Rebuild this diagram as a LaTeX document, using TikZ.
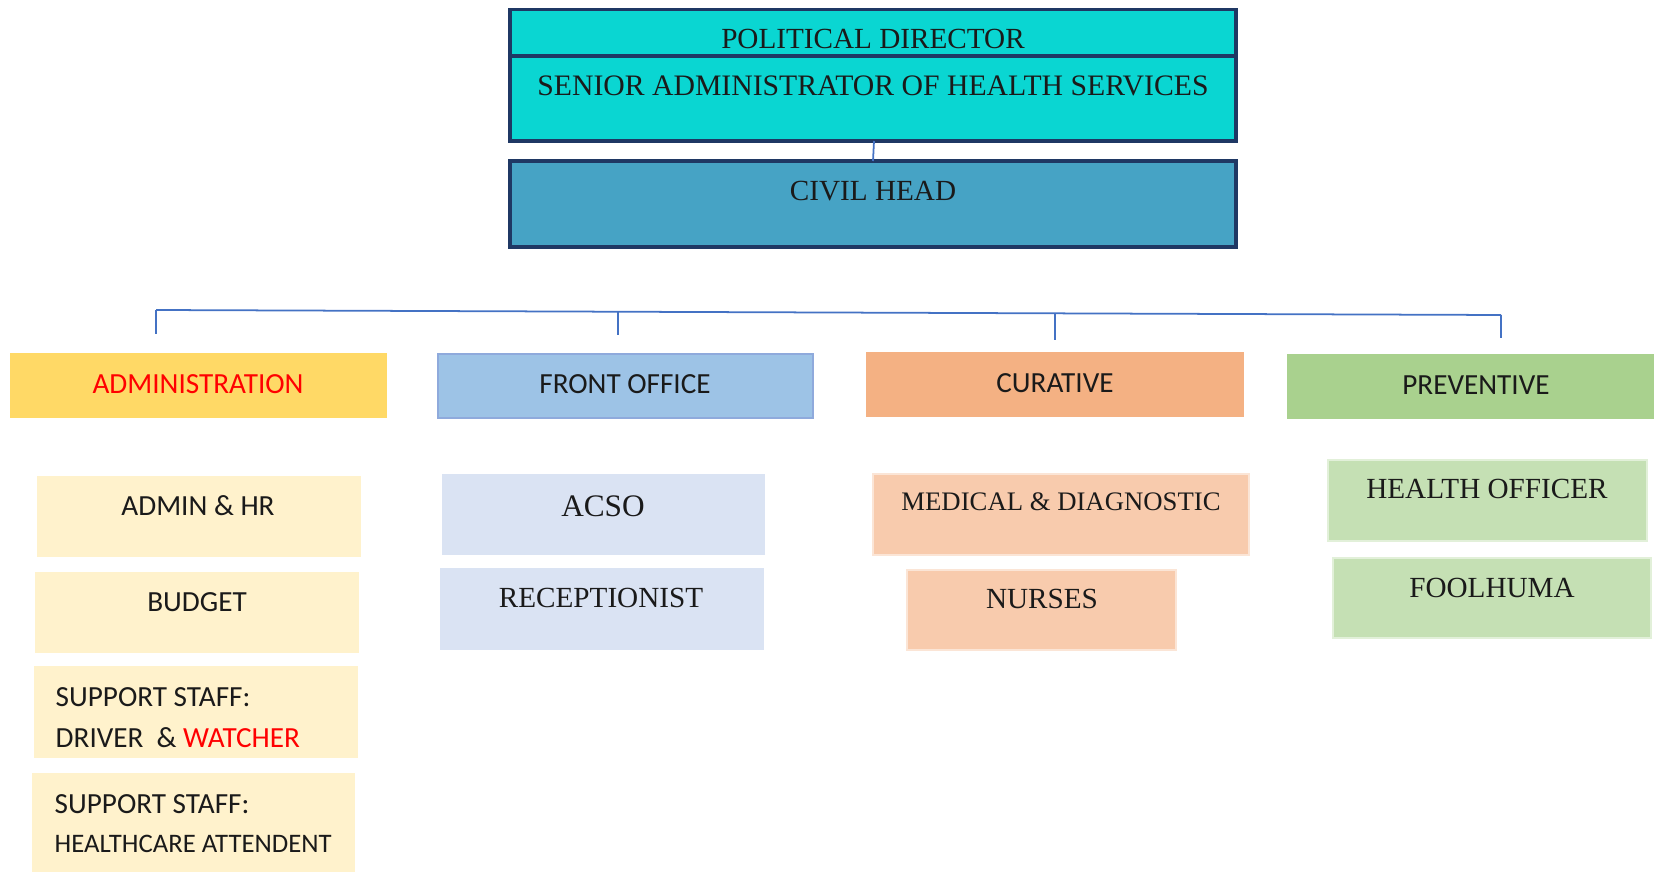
\documentclass[tikz,border=0pt]{standalone}
\usepackage{fontspec}
\setmainfont{Liberation Serif}
\newfontfamily\calib{Carlito}
\usetikzlibrary{fit}
\definecolor{topfill}{HTML}{0AD6D2}
\definecolor{navy}{HTML}{1F3864}
\definecolor{civfill}{HTML}{46A3C5}
\definecolor{linkblue}{HTML}{4472C4}
\definecolor{admfill}{HTML}{FFD966}
\definecolor{fofill}{HTML}{9DC3E6}
\definecolor{foborder}{HTML}{8FAADC}
\definecolor{curfill}{HTML}{F4B183}
\definecolor{prefill}{HTML}{A9D18E}
\definecolor{admsub}{HTML}{FFF2CC}
\definecolor{fosub}{HTML}{DAE3F3}
\definecolor{cursub}{HTML}{F8CBAD}
\definecolor{curbord}{HTML}{FBE5D6}
\definecolor{presub}{HTML}{C5E0B4}
\definecolor{prebord}{HTML}{E2F0D9}
\definecolor{redtxt}{HTML}{FF0000}
\definecolor{txt}{HTML}{1A1A1A}
\tikzset{
  boxbase/.style={inner sep=0pt, outer sep=0pt},
  topbox/.style={boxbase, fill=topfill, draw=navy, line width=0.9pt},
  civbox/.style={boxbase, fill=civfill, draw=navy, line width=0.9pt},
  admbox/.style={boxbase, fill=admfill},
  fobox/.style={boxbase, fill=fofill, draw=foborder, line width=0.8pt},
  curbox/.style={boxbase, fill=curfill},
  prebox/.style={boxbase, fill=prefill},
  admsubbox/.style={boxbase, fill=admsub},
  fosubbox/.style={boxbase, fill=fosub},
  cursubbox/.style={boxbase, fill=cursub, draw=curbord, line width=0.8pt},
  presubbox/.style={boxbase, fill=presub, draw=prebord, line width=0.8pt},
  serif/.style={inner sep=0pt, text=txt, font=\fontsize{8.3}{10}\selectfont, text height=5.5pt, text depth=0pt},
  sans/.style={inner sep=0pt, text=txt, font=\calib\fontsize{8.3}{10}\selectfont, text height=5.35pt, text depth=0pt},
  link/.style={draw=linkblue, line width=0.5pt},
}
\begin{document}
\begin{tikzpicture}[x=0.01cm, y=-0.01cm]
\useasboundingbox (0,0) rectangle (1654,873);
% top boxes
\node[topbox, fit={(510,9.5) (1236,141)}] (top) {};
\draw[navy, line width=0.9pt] (top.west |- 0,56) coordinate (divL) -- (top.east |- 0,56) coordinate (divR);
\node[serif] (pol) at (873,38.5) {POLITICAL DIRECTOR};
\node[serif, font=\fontsize{8.45}{10}\selectfont, text height=5.6pt] (sen) at (873,85.5) {SENIOR ADMINISTRATOR OF HEALTH SERVICES};
\node[civbox, fit={(510,161) (1236,247)}] (civil) {};
\node[serif] (civT) at (873,191) {CIVIL HEAD};
\draw[link] (top.south -| 874,0) -- (civil.north -| 873,0);
% bus
\coordinate (b1) at (156,310);
\coordinate (b4) at (1501,315);
\coordinate (b2) at (618,312);
\coordinate (b3) at (1055,313.5);
\coordinate (d1) at (156,334);
\coordinate (d2) at (618,335);
\coordinate (d3) at (1055,340);
\coordinate (d4) at (1501,338);
\draw[link] (b1) -- (b4);
\draw[link] (b1) -- (d1);
\draw[link] (b2) -- (d2);
\draw[link] (b3) -- (d3);
\draw[link] (b4) -- (d4);
% level 2
\node[admbox, fit={(9.5,353) (387,418)}] (adm) {};
\node[sans, text=redtxt] (admT) at (198,384) {ADMINISTRATION};
\node[fobox, fit={(438,354) (813,418)}] (fo) {};
\node[sans] (foT) at (625,384) {FRONT OFFICE};
\node[curbox, fit={(866,352) (1244,417)}] (cur) {};
\node[sans] (curT) at (1055,383) {CURATIVE};
\node[prebox, fit={(1287,354) (1654,419)}] (pre) {};
\node[sans] (preT) at (1476,385) {PREVENTIVE};
% administration subs
\node[admsubbox, fit={(37,476) (361,557)}] (ahr) {};
\node[sans] (ahrT) at (198,506) {ADMIN \& HR};
\node[admsubbox, fit={(35,572) (359,653)}] (bud) {};
\node[sans] (budT) at (197,602) {BUDGET};
\node[admsubbox, fit={(34,666) (358,758)}] (ss1) {};
\node[sans, anchor=west] (ss1a) at (55,697) {SUPPORT STAFF:};
\node[sans, anchor=west] (ss1b) at (55,738) {DRIVER\ \ \& \textcolor{redtxt}{WATCHER}};
\node[admsubbox, fit={(32,773) (355,872)}] (ss2) {};
\node[sans, anchor=west] (ss2a) at (54,804) {SUPPORT STAFF:};
\node[sans, anchor=west, font=\calib\fontsize{7.6}{9}\selectfont, text height=4.9pt] (ss2b) at (54,844) {HEALTHCARE ATTENDENT};
% front office subs
\node[fosubbox, fit={(442,474) (765,555)}] (acso) {};
\node[serif, font=\fontsize{8.9}{10}\selectfont, text height=5.9pt] (acsoT) at (603,506) {ACSO};
\node[fosubbox, fit={(440,568) (764,650)}] (rec) {};
\node[serif] (recT) at (601,598) {RECEPTIONIST};
% curative subs
\node[cursubbox, fit={(873,474) (1249,555)}] (med) {};
\node[serif, font=\fontsize{7.6}{9}\selectfont, text height=5.03pt] (medT) at (1061,502) {MEDICAL \& DIAGNOSTIC};
\node[cursubbox, fit={(907,570) (1176,650)}] (nur) {};
\node[serif] (nurT) at (1042,599) {NURSES};
% preventive subs
\node[presubbox, fit={(1328,460) (1647,541)}] (ho) {};
\node[serif] (hoT) at (1487,489) {HEALTH OFFICER};
\node[presubbox, fit={(1333,558) (1651,638)}] (fool) {};
\node[serif] (foolT) at (1492,588) {FOOLHUMA};
\end{tikzpicture}
\end{document}
